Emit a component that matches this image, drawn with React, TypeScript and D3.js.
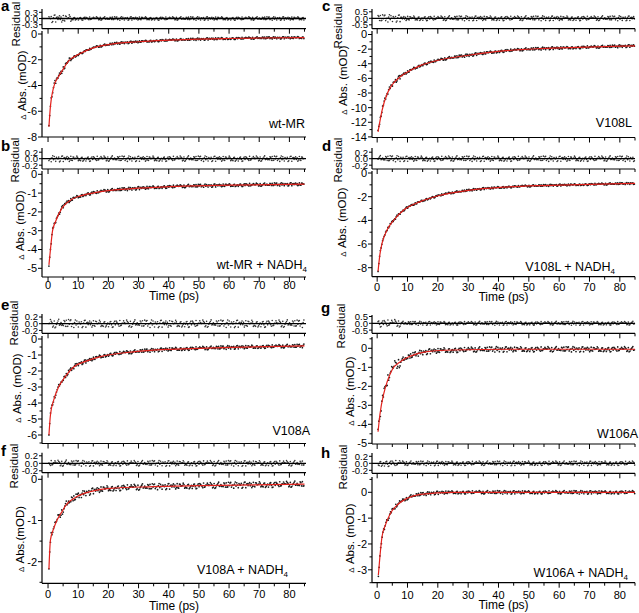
import React from "react";
import * as d3 from "d3";

// ---------- DATA ----------
const panelLetters = ["a", "b", "c", "d", "e", "f", "g", "h"];
const sampleNames = ["wt-MR", "wt-MR + NADH", "V108L", "V108L + NADH", "V108A", "V108A + NADH", "W106A", "W106A + NADH"];
const sampleSubscripts = ["", "4", "", "4", "", "4", "", "4"];
const absLabels = ["Abs. (mOD)", "Abs. (mOD)", "Abs. (mOD)", "Abs. (mOD)", "Abs. (mOD)", "Abs.(mOD)", "Abs. (mOD)", "Abs. (mOD)"];
const timeTicks = [0, 10, 20, 30, 40, 50, 60, 70, 80];
const residualTick = [0.3, 0.2, 0.5, 0.2, 0.2, 0.2, 0.5, 0.2];
const mainTickLowest = [-8, -5, -14, -8, -6, -2, -5, -3];
const mainTickStep = [2, 1, 2, 2, 1, 1, 1, 1];

// fitted curves: time (ps) and ΔAbs (mOD)
const fitTimeA = [0.3, 0.8, 1.9, 3.5, 5.2, 7, 10, 15, 20, 30, 40, 50, 60, 70, 85];
const fitValA = [-7.2, -5.6, -4.1, -3.3, -2.65, -2.05, -1.6, -1.08, -0.82, -0.6, -0.48, -0.4, -0.35, -0.31, -0.28];
const fitTimeB = [0.3, 0.8, 1.5, 2.4, 4.6, 7.9, 10.7, 17, 28, 40, 60, 85];
const fitValB = [-4.82, -4.0, -3.0, -2.55, -1.8, -1.33, -1.15, -0.93, -0.76, -0.66, -0.58, -0.52];
const fitTimeC = [0.3, 1.6, 3.3, 4.9, 7.7, 11, 14.2, 19.8, 30.7, 41.6, 52.6, 63.6, 85];
const fitValC = [-13.3, -10.4, -8.1, -6.9, -5.75, -4.9, -4.25, -3.55, -2.8, -2.25, -1.95, -1.8, -1.55];
const fitTimeD = [0.3, 0.9, 1.6, 3.3, 5.5, 8.75, 14.2, 19.8, 30.7, 41.6, 52.6, 63.6, 85];
const fitValD = [-8.3, -6.9, -5.95, -4.8, -3.97, -3.13, -2.42, -1.94, -1.44, -1.2, -1.07, -1.0, -0.87];
const fitTimeE = [0.3, 0.8, 1.9, 3.5, 5.7, 8.5, 12.9, 17.3, 28.3, 39.4, 50.4, 61.5, 85];
const fitValE = [-6.0, -4.75, -3.8, -3.0, -2.35, -1.75, -1.37, -1.1, -0.8, -0.65, -0.58, -0.52, -0.43];
const fitTimeF = [0.3, 0.8, 1.9, 3.0, 4.6, 5.8, 9.6, 14, 20.6, 34.8, 50.4, 85];
const fitValF = [-2.18, -1.47, -1.19, -0.99, -0.79, -0.64, -0.42, -0.3, -0.22, -0.18, -0.155, -0.115];
const fitTimeG = [0.3, 0.9, 2.2, 3.3, 4.9, 7.7, 11, 16.4, 25.2, 47, 85];
const fitValG = [-4.39, -3.5, -2.37, -1.76, -1.14, -0.7, -0.41, -0.18, -0.09, -0.05, -0.05];
const fitTimeH = [0.4, 0.9, 1.6, 2.7, 4.4, 6.6, 9.9, 14.2, 25.2, 85];
const fitValH = [-3.2, -2.5, -1.72, -1.27, -0.81, -0.49, -0.23, -0.08, 0.0, 0.0];

const FIT_TIMES = [fitTimeA, fitTimeB, fitTimeC, fitTimeD, fitTimeE, fitTimeF, fitTimeG, fitTimeH];
const FIT_VALUES = [fitValA, fitValB, fitValC, fitValD, fitValE, fitValF, fitValG, fitValH];

// hand-typed residual scatter pattern (normalized) and per-panel amplitudes (mOD)
const NOISE = [0.42, -0.67, 0.13, 0.88, -0.25, -0.91, 0.56, 0.07, -0.38, 0.71, -0.12, 0.34, -0.79, 0.95, -0.05, -0.52, 0.28, 0.63, -0.84, 0.19,
  -0.31, 0.47, -0.66, 0.02, 0.81, -0.43, 0.58, -0.17, -0.97, 0.36, 0.11, -0.59, 0.74, -0.28, 0.22, -0.71, 0.49, 0.9, -0.08, -0.46,
  0.65, -0.35, 0.16, -0.83, 0.53, 0.03, -0.62, 0.39, -0.2, 0.77, -0.55, 0.27, -0.93, 0.6, 0.09, -0.4, 0.85, -0.14, -0.73, 0.31,
  0.5, -0.26, 0.69, -0.86, 0.14, -0.5, 0.92, -0.03, -0.64, 0.44, 0.24, -0.77, 0.58, -0.33, 0.06, 0.8, -0.57, 0.37, -0.1, -0.89,
  0.66, 0.18, -0.48, 0.73, -0.22, 0.41, -0.7, 0.01, 0.87, -0.36, -0.6, 0.3, 0.55, -0.15, -0.81, 0.45, 0.12, -0.53, 0.68, -0.29, 0.2];
const noiseAmpEarly = [0.2, 0.1, 0.3, 0.1, 0.14, 0.09, 0.3, 0.1];
const noiseAmpLate = [0.09, 0.09, 0.2, 0.09, 0.12, 0.08, 0.15, 0.07];

// ---------- LAYOUT ----------
const COLS = [
  { x0: 42, x1: 306, domain: [-2, 85.5] },
  { x0: 372, x1: 635, domain: [-1.7, 85] },
];
const LAYOUT = [
  { col: 0, rTop: 9, rZero: 18.5, rBottom: 28.7, rTickPx: 6.2, mTop: 31, mZero: 34, mLowY: 137, mBottom: 137, xLabels: false, letter: [1, 11], resLab: [15.5, 24], absLab: [21.5, 85], name: [305, 128], tickY: 0, timeY: 0 },
  { col: 0, rTop: 148, rZero: 158.7, rBottom: 169, rTickPx: 6.5, mTop: 171, mZero: 174.3, mLowY: 268.3, mBottom: 277, xLabels: true, letter: [1, 151], resLab: [15, 160], absLab: [20, 225], name: [307, 269], tickY: 289, timeY: 300 },
  { col: 1, rTop: 9, rZero: 18.3, rBottom: 28.7, rTickPx: 6.5, mTop: 31, mZero: 34.5, mLowY: 136.9, mBottom: 137.5, xLabels: false, letter: [322, 11], resLab: [337.5, 26], absLab: [342.5, 80], name: [632, 127], tickY: 0, timeY: 0 },
  { col: 1, rTop: 148, rZero: 158.7, rBottom: 169, rTickPx: 6.5, mTop: 171, mZero: 173, mLowY: 267.7, mBottom: 276.7, xLabels: true, letter: [322, 151], resLab: [338, 160], absLab: [341.5, 222], name: [615, 271], tickY: 291, timeY: 301 },
  { col: 0, rTop: 314, rZero: 323.7, rBottom: 333.3, rTickPx: 6.7, mTop: 336, mZero: 339, mLowY: 435, mBottom: 443.5, xLabels: false, letter: [1, 310], resLab: [13.5, 323], absLab: [16.5, 388], name: [310, 435], tickY: 0, timeY: 0 },
  { col: 0, rTop: 452.7, rZero: 463.3, rBottom: 472.7, rTickPx: 7.5, mTop: 475.5, mZero: 479.3, mLowY: 561.7, mBottom: 583.3, xLabels: true, letter: [1, 456], resLab: [13.5, 466], absLab: [20, 539], name: [288, 574], tickY: 598, timeY: 610 },
  { col: 1, rTop: 315, rZero: 323.3, rBottom: 333.3, rTickPx: 6.8, mTop: 337, mZero: 348.3, mLowY: 443.3, mBottom: 444, xLabels: false, letter: [321, 313], resLab: [341, 326], absLab: [350, 391], name: [638, 438], tickY: 0, timeY: 0 },
  { col: 1, rTop: 453, rZero: 463.3, rBottom: 473.3, rTickPx: 7, mTop: 477, mZero: 492.3, mLowY: 569.8, mBottom: 582.7, xLabels: true, letter: [321, 458], resLab: [343, 467], absLab: [350, 538], name: [628, 577], tickY: 599, timeY: 609 },
];

const FONT = "'Liberation Sans', Arial, Helvetica, sans-serif";
const RED = "#e3211c";

// monotone cubic (Steffen, same as d3.curveMonotoneX) evaluation
function monotone(xs: number[], ys: number[]) {
  const n = xs.length;
  const h: number[] = [], s: number[] = [];
  for (let i = 0; i < n - 1; i++) {
    h[i] = xs[i + 1] - xs[i];
    s[i] = (ys[i + 1] - ys[i]) / h[i];
  }
  const sign = (v: number) => (v < 0 ? -1 : 1);
  const m: number[] = new Array(n).fill(0);
  for (let i = 1; i < n - 1; i++) {
    const p = (s[i - 1] * h[i] + s[i] * h[i - 1]) / (h[i - 1] + h[i]);
    m[i] = (sign(s[i - 1]) + sign(s[i])) * Math.min(Math.abs(s[i - 1]), Math.abs(s[i]), 0.5 * Math.abs(p)) || 0;
  }
  m[0] = (3 * s[0] - m[1]) / 2;
  m[n - 1] = (3 * s[n - 2] - m[n - 2]) / 2;
  return (x: number) => {
    let i = 0;
    while (i < n - 2 && x > xs[i + 1]) i++;
    const hh = h[i];
    const t = Math.max(0, Math.min(1, (x - xs[i]) / hh));
    const t2 = t * t, t3 = t2 * t;
    return (2 * t3 - 3 * t2 + 1) * ys[i] + (t3 - 2 * t2 + t) * hh * m[i] + (-2 * t3 + 3 * t2) * ys[i + 1] + (t3 - t2) * hh * m[i + 1];
  };
}

function Panel({ i }: { i: number }) {
  const L = LAYOUT[i];
  const C = COLS[L.col];
  const x = d3.scaleLinear().domain(C.domain).range([C.x0, C.x1]);
  const rt = residualTick[i];
  const yR = d3.scaleLinear().domain([-rt, rt]).range([L.rZero + L.rTickPx, L.rZero - L.rTickPx]);
  const yM = d3.scaleLinear().domain([mainTickLowest[i], 0]).range([L.mLowY, L.mZero]);
  const fT = FIT_TIMES[i], fV = FIT_VALUES[i];
  const interp = monotone(fT, fV);
  const times = d3.range(fT[0], 85.001, 0.25);
  const pts = times.map((t, k) => {
    const r = NOISE[(k * 7 + i * 31) % NOISE.length] * (t < 8 ? noiseAmpEarly[i] : noiseAmpLate[i]);
    return { t, r, v: interp(t) + r };
  });
  const line = d3.line<number>().x((_, k) => x(fT[k])).y((d) => yM(d)).curve(d3.curveMonotoneX);

  const step = mainTickStep[i];
  const majors = d3.range(mainTickLowest[i], 0.001, step);
  const minors = d3.range(mainTickLowest[i] - step, step + 0.001, step / 2)
    .filter((v) => majors.every((m) => Math.abs(m - v) > 1e-6))
    .filter((v) => yM(v) >= L.mTop && yM(v) <= L.mBottom + 0.5);
  const xTicks = d3.range(0, 85.01, 5);
  const ax = C.x0;

  const xAxis = (yy: number) => (
    <g>
      <line x1={C.x0} x2={C.x1} y1={yy} y2={yy} stroke="#000" strokeWidth={1.2} />
      {xTicks.map((t) => (
        <line key={t} x1={x(t)} x2={x(t)} y1={yy} y2={yy + (t % 10 === 0 ? 5 : 3)} stroke="#000" strokeWidth={1} />
      ))}
    </g>
  );

  return (
    <g>
      <text x={L.letter[0]} y={L.letter[1]} fontFamily={FONT} fontWeight="bold" fontSize={15}>{panelLetters[i]}</text>

      {/* residual panel */}
      <line x1={ax} x2={ax} y1={L.rTop} y2={L.rBottom} stroke="#000" strokeWidth={1.2} />
      {[-rt, 0, rt].map((v) => (
        <g key={v}>
          <line x1={ax - 3} x2={ax} y1={yR(v)} y2={yR(v)} stroke="#000" strokeWidth={1} />
          <text x={ax - 4} y={yR(v)} dy="0.36em" textAnchor="end" fontFamily={FONT} fontSize={9.5}>{v.toFixed(1)}</text>
        </g>
      ))}
      {pts.map((p, k) => (
        <circle key={k} cx={x(p.t)} cy={yR(p.r)} r={0.8} fill="#333" />
      ))}
      <line x1={C.x0} x2={C.x1} y1={L.rZero} y2={L.rZero} stroke="#000" strokeWidth={1.3} />
      {xAxis(L.rBottom)}
      <text transform={`translate(${L.resLab[0]},${L.resLab[1]}) rotate(-90)`} textAnchor="middle" dy="0.35em" fontFamily={FONT} fontSize={11.5}>Residual</text>

      {/* main panel */}
      <line x1={ax} x2={ax} y1={L.mTop} y2={L.mBottom} stroke="#000" strokeWidth={1.2} />
      {majors.map((v) => (
        <g key={"M" + v}>
          <line x1={ax - 4} x2={ax} y1={yM(v)} y2={yM(v)} stroke="#000" strokeWidth={1} />
          <text x={ax - 5} y={yM(v)} dy="0.36em" textAnchor="end" fontFamily={FONT} fontSize={11}>{String(Math.round(v * 10) / 10)}</text>
        </g>
      ))}
      {minors.map((v) => (
        <line key={"m" + v} x1={ax - 2.5} x2={ax} y1={yM(v)} y2={yM(v)} stroke="#000" strokeWidth={1} />
      ))}
      {pts.map((p, k) => (
        <circle key={k} cx={x(p.t)} cy={yM(p.v)} r={0.85} fill="#1a1a1a" />
      ))}
      <path d={line(fV) || ""} fill="none" stroke={RED} strokeWidth={1.2} />
      {xAxis(L.mBottom)}
      <text transform={`translate(${L.absLab[0]},${L.absLab[1]}) rotate(-90)`} textAnchor="middle" dy="0.35em" fontFamily={FONT} fontSize={11.5}>
        <tspan fontSize={8}>Δ</tspan> {absLabels[i]}
      </text>
      <text x={L.name[0]} y={L.name[1]} textAnchor="end" fontFamily={FONT} fontSize={12.5}>
        {sampleNames[i]}
        {sampleSubscripts[i] ? <tspan fontSize={8} dy={3}>{sampleSubscripts[i]}</tspan> : null}
      </text>

      {L.xLabels && (
        <g>
          {timeTicks.map((t) => (
            <text key={t} x={x(t)} y={L.tickY} textAnchor="middle" fontFamily={FONT} fontSize={11}>{t}</text>
          ))}
          <text x={(C.x0 + C.x1) / 2} y={L.timeY} textAnchor="middle" fontFamily={FONT} fontSize={12}>Time (ps)</text>
        </g>
      )}
    </g>
  );
}

export default function App() {
  return (
    <svg width={639} height={613} viewBox="0 0 639 613" style={{ position: "absolute", left: 0, top: 0, background: "#fff" }}>
      <rect x={0} y={0} width={639} height={613} fill="#fff" />
      {panelLetters.map((_, i) => (
        <Panel key={i} i={i} />
      ))}
    </svg>
  );
}
